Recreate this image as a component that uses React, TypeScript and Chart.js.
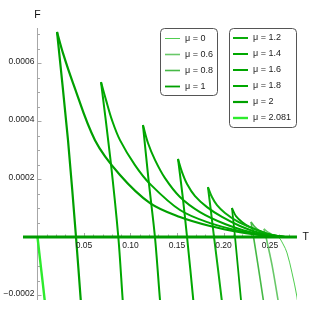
import { useEffect, useRef } from "react";
import { Chart, registerables } from "chart.js";
Chart.register(...registerables);

// ---- data (T, F) ----
const MU_LABELS = ["μ = 0", "μ = 0.6", "μ = 0.8", "μ = 1", "μ = 1.2", "μ = 1.4", "μ = 1.6", "μ = 1.8", "μ = 2", "μ = 2.081"];

const MU0_PATH = [[0.25, 0], [0.2586, 0], [0.264, -2.4e-5], [0.2683, -5.5e-5], [0.2737, -1.24e-4], [0.279, -2.07e-4], [0.2806, -2.52e-4]];

const MU06_VERT = [[0.2602, -2.52e-4], [0.2586, -2.17e-4], [0.2522, -9.7e-5], [0.2457, 0], [0.2435, 2.8e-5]];
const MU06_RIGHT = [[0.2435, 2.8e-5], [0.2478, 1.7e-5], [0.2532, 6.9e-6], [0.2608, 1.4e-6], [0.2694, 0]];

const MU08_VERT = [[0.2441, -2.52e-4], [0.2428, -2.17e-4], [0.2371, -9.7e-5], [0.2323, 0], [0.2296, 5.2e-5]];
const MU08_RIGHT = [[0.2296, 5.2e-5], [0.2339, 3.4e-5], [0.2392, 2.1e-5], [0.2468, 1.0e-5], [0.2554, 3.4e-6], [0.2661, 0]];

const MU10_VERT = [[0.2199, -2.52e-4], [0.2188, -2.17e-4], [0.2124, 0], [0.2091, 1.0e-4]];
const MU10_RIGHT = [[0.2091, 1.0e-4], [0.2134, 7.2e-5], [0.2199, 5.2e-5], [0.2285, 3.4e-5], [0.2392, 2.1e-5], [0.2522, 6.9e-6], [0.2661, 0]];

const MU12_VERT = [[0.1989, -2.52e-4], [0.1981, -2.17e-4], [0.1898, 0], [0.1866, 8.6e-5], [0.1833, 1.72e-4]];
const MU12_RIGHT = [[0.1833, 1.72e-4], [0.1876, 1.38e-4], [0.193, 1.1e-4], [0.2016, 8.3e-5], [0.2145, 5.5e-5], [0.2306, 3.1e-5], [0.2478, 1.0e-5], [0.2661, 0]];

const MU14_VERT = [[0.1683, -2.52e-4], [0.1675, -2.17e-4], [0.1608, 0], [0.1559, 1.45e-4], [0.1511, 2.69e-4]];
const MU14_RIGHT = [[0.1511, 2.69e-4], [0.1554, 2.24e-4], [0.1608, 1.83e-4], [0.1694, 1.41e-4], [0.1823, 1.03e-4], [0.1984, 6.9e-5], [0.2177, 3.8e-5], [0.2392, 1.4e-5], [0.2661, 0]];

const MU16_VERT = [[0.1328, -2.52e-4], [0.1317, -2.17e-4], [0.1263, 0], [0.1194, 1.97e-4], [0.1134, 3.86e-4]];
const MU16_RIGHT = [[0.1134, 3.86e-4], [0.1188, 3.24e-4], [0.1263, 2.66e-4], [0.1371, 2.03e-4], [0.1532, 1.38e-4], [0.1747, 8.6e-5], [0.2016, 4.5e-5], [0.2285, 1.7e-5], [0.25, 3.4e-6], [0.2661, 0]];

const MU18_VERT = [[0.0925, -2.52e-4], [0.0916, -2.17e-4], [0.0869, 0], [0.0785, 2.66e-4], [0.0683, 5.34e-4]];
const MU18_RIGHT = [[0.0683, 5.34e-4], [0.0737, 4.72e-4], [0.0801, 4.03e-4], [0.0887, 3.34e-4], [0.1048, 2.48e-4], [0.121, 1.83e-4], [0.1532, 9.3e-5], [0.1855, 4.8e-5], [0.2177, 2.1e-5], [0.25, 3.4e-6], [0.2661, 0]];

const MU2_VERT = [[0.0473, -2.52e-4], [0.0465, -2.17e-4], [0.0414, 0], [0.0328, 3.34e-4], [0.021, 7.07e-4]];
const MU2_RIGHT = [[0.021, 7.07e-4], [0.0274, 6.34e-4], [0.0382, 5.31e-4], [0.0618, 3.34e-4], [0.0887, 2.14e-4], [0.121, 1.17e-4], [0.1532, 6.9e-5], [0.1855, 3.8e-5], [0.2177, 1.7e-5], [0.25, 3.4e-6], [0.2661, 0]];

const MU2081_PATH = [[0, 0], [0.0038, -1.07e-4], [0.0077, -2.17e-4], [0.0087, -2.52e-4]];

const BASELINE = [[-0.0156, 0], [0.279, 0]];

// ---- axes ----
const X_MIN = -0.015591;
const X_MAX = 0.279032;
const Y_MIN = -2.1724e-4;
const Y_MAX = 7.2069e-4;
const X_TICKS = [0.05, 0.1, 0.15, 0.2, 0.25];
const X_TICK_LABELS = ["0.05", "0.10", "0.15", "0.20", "0.25"];
const X_MINOR = [0.01, 0.02, 0.03, 0.04, 0.06, 0.07, 0.08, 0.09, 0.11, 0.12, 0.13, 0.14, 0.16, 0.17, 0.18, 0.19, 0.21, 0.22, 0.23, 0.24, 0.26, 0.27];
const Y_TICKS = [0.0006, 0.0004, 0.0002, -0.0002];
const Y_TICK_LABELS = ["0.0006", "0.0004", "0.0002", "\u22120.0002"];
const Y_MINOR = [-0.00015, -0.0001, -0.00005, 0.00005, 0.0001, 0.00015, 0.00025, 0.0003, 0.00035, 0.00045, 0.0005, 0.00055, 0.00065, 0.0007];

// styles per mu (index matches MU_LABELS)
const MU_COLORS = ["rgb(80,205,80)", "rgb(105,200,105)", "rgb(70,185,70)", "rgb(0,160,0)", "rgb(10,172,10)", "rgb(0,168,0)", "rgb(0,165,0)", "rgb(0,168,0)", "rgb(0,160,0)", "rgb(45,235,45)"];
const MU_WIDTHS = [1, 1.6, 1.6, 1.8, 2, 2, 2, 2, 2.2, 2.4];

const FONT = '"Liberation Sans", Arial, sans-serif';

const toXY = (arr: number[][]) => arr.map((p) => ({ x: p[0], y: p[1] }));

const axesPlugin = {
  id: "mmaAxes",
  beforeDatasetsDraw(chart: any) {
    const { ctx, scales } = chart;
    const xs = scales.x, ys = scales.y;
    const x0 = xs.getPixelForValue(0);
    const y0 = ys.getPixelForValue(0);
    ctx.save();
    ctx.strokeStyle = "#a6a6a6";
    ctx.lineWidth = 1;
    ctx.beginPath();
    ctx.moveTo(x0, ys.top);
    ctx.lineTo(x0, ys.bottom);
    ctx.moveTo(xs.left, y0);
    ctx.lineTo(xs.right, y0);
    Y_TICKS.forEach((v) => {
      const y = Math.round(ys.getPixelForValue(v)) + 0.5;
      ctx.moveTo(x0, y);
      ctx.lineTo(x0 + 4, y);
    });
    Y_MINOR.forEach((v) => {
      const y = Math.round(ys.getPixelForValue(v)) + 0.5;
      ctx.moveTo(x0, y);
      ctx.lineTo(x0 + 2.5, y);
    });
    X_TICKS.forEach((v) => {
      const x = Math.round(xs.getPixelForValue(v)) + 0.5;
      ctx.moveTo(x, y0);
      ctx.lineTo(x, y0 - 4);
    });
    X_MINOR.forEach((v) => {
      const x = Math.round(xs.getPixelForValue(v)) + 0.5;
      ctx.moveTo(x, y0);
      ctx.lineTo(x, y0 - 2.5);
    });
    ctx.stroke();
    ctx.restore();
  },
  afterDraw(chart: any) {
    const { ctx, scales } = chart;
    const xs = scales.x, ys = scales.y;
    const x0 = xs.getPixelForValue(0);
    const y0 = ys.getPixelForValue(0);
    ctx.save();
    ctx.fillStyle = "#222";
    ctx.font = `8.5px ${FONT}`;
    ctx.textAlign = "right";
    ctx.textBaseline = "middle";
    Y_TICKS.forEach((v, i) => {
      ctx.fillText(Y_TICK_LABELS[i], x0 - 3, ys.getPixelForValue(v) - 1);
    });
    ctx.textAlign = "center";
    ctx.textBaseline = "middle";
    X_TICKS.forEach((v, i) => {
      ctx.fillText(X_TICK_LABELS[i], xs.getPixelForValue(v), y0 + 8.5);
    });
    ctx.fillStyle = "#111";
    ctx.font = `10.5px ${FONT}`;
    ctx.textAlign = "center";
    ctx.fillText("F", x0, 15.5);
    ctx.textAlign = "left";
    ctx.fillText("T", 302.5, y0);

    // legends
    const drawBox = (x: number, y: number, w: number, h: number) => {
      ctx.beginPath();
      ctx.roundRect(x, y, w, h, 4);
      ctx.fillStyle = "#fff";
      ctx.fill();
      ctx.strokeStyle = "#555";
      ctx.lineWidth = 1;
      ctx.stroke();
    };
    const drawEntry = (i: number, lx: number, ly: number) => {
      ctx.beginPath();
      ctx.strokeStyle = MU_COLORS[i];
      ctx.lineWidth = MU_WIDTHS[i];
      ctx.moveTo(lx, ly);
      ctx.lineTo(lx + 15, ly);
      ctx.stroke();
      ctx.fillStyle = "#222";
      ctx.font = `9px ${FONT}`;
      ctx.textAlign = "left";
      ctx.textBaseline = "middle";
      ctx.fillText(MU_LABELS[i], lx + 20, ly);
    };
    drawBox(160.5, 28.5, 57, 67);
    [0, 1, 2, 3].forEach((i, k) => drawEntry(i, 165, 38.5 + k * 16));
    drawBox(229.5, 28.5, 67, 99);
    [4, 5, 6, 7, 8, 9].forEach((i, k) => drawEntry(i, 233, 38 + k * 16));
    ctx.restore();
  },
};

export default function App() {
  const ref = useRef<HTMLCanvasElement>(null);
  useEffect(() => {
    if (!ref.current) return;
    const mk = (arr: number[][], i: number, tension: number) => ({
      data: toXY(arr),
      borderColor: MU_COLORS[i],
      borderWidth: MU_WIDTHS[i],
      showLine: true,
      pointRadius: 0,
      tension,
      fill: false,
    });
    const datasets: any[] = [
      { data: toXY(BASELINE), borderColor: "rgb(0,155,0)", borderWidth: 3, showLine: true, pointRadius: 0, fill: false },
      mk(MU2081_PATH, 9, 0.2),
      mk(MU2_VERT, 8, 0.3), mk(MU2_RIGHT, 8, 0.35),
      mk(MU18_VERT, 7, 0.3), mk(MU18_RIGHT, 7, 0.35),
      mk(MU16_VERT, 6, 0.3), mk(MU16_RIGHT, 6, 0.35),
      mk(MU14_VERT, 5, 0.3), mk(MU14_RIGHT, 5, 0.35),
      mk(MU12_VERT, 4, 0.3), mk(MU12_RIGHT, 4, 0.35),
      mk(MU10_VERT, 3, 0.3), mk(MU10_RIGHT, 3, 0.35),
      mk(MU08_VERT, 2, 0.3), mk(MU08_RIGHT, 2, 0.35),
      mk(MU06_VERT, 1, 0.3), mk(MU06_RIGHT, 1, 0.35),
      mk(MU0_PATH, 0, 0.35),
    ];
    const chart = new Chart(ref.current, {
      type: "scatter",
      data: { datasets },
      options: {
        animation: false,
        responsive: false,
        devicePixelRatio: 1,
        layout: { padding: { left: 23, top: 28, right: 14, bottom: 11 } },
        plugins: { legend: { display: false }, tooltip: { enabled: false } },
        scales: {
          x: { type: "linear", min: X_MIN, max: X_MAX, display: false },
          y: { type: "linear", min: Y_MIN, max: Y_MAX, display: false },
        },
      },
      plugins: [axesPlugin],
    } as any);
    return () => chart.destroy();
  }, []);
  return (
    <div style={{ position: "absolute", left: 0, top: 0, width: 311, height: 311, background: "#fff" }}>
      <canvas ref={ref} width={311} height={311} style={{ display: "block" }} />
    </div>
  );
}
